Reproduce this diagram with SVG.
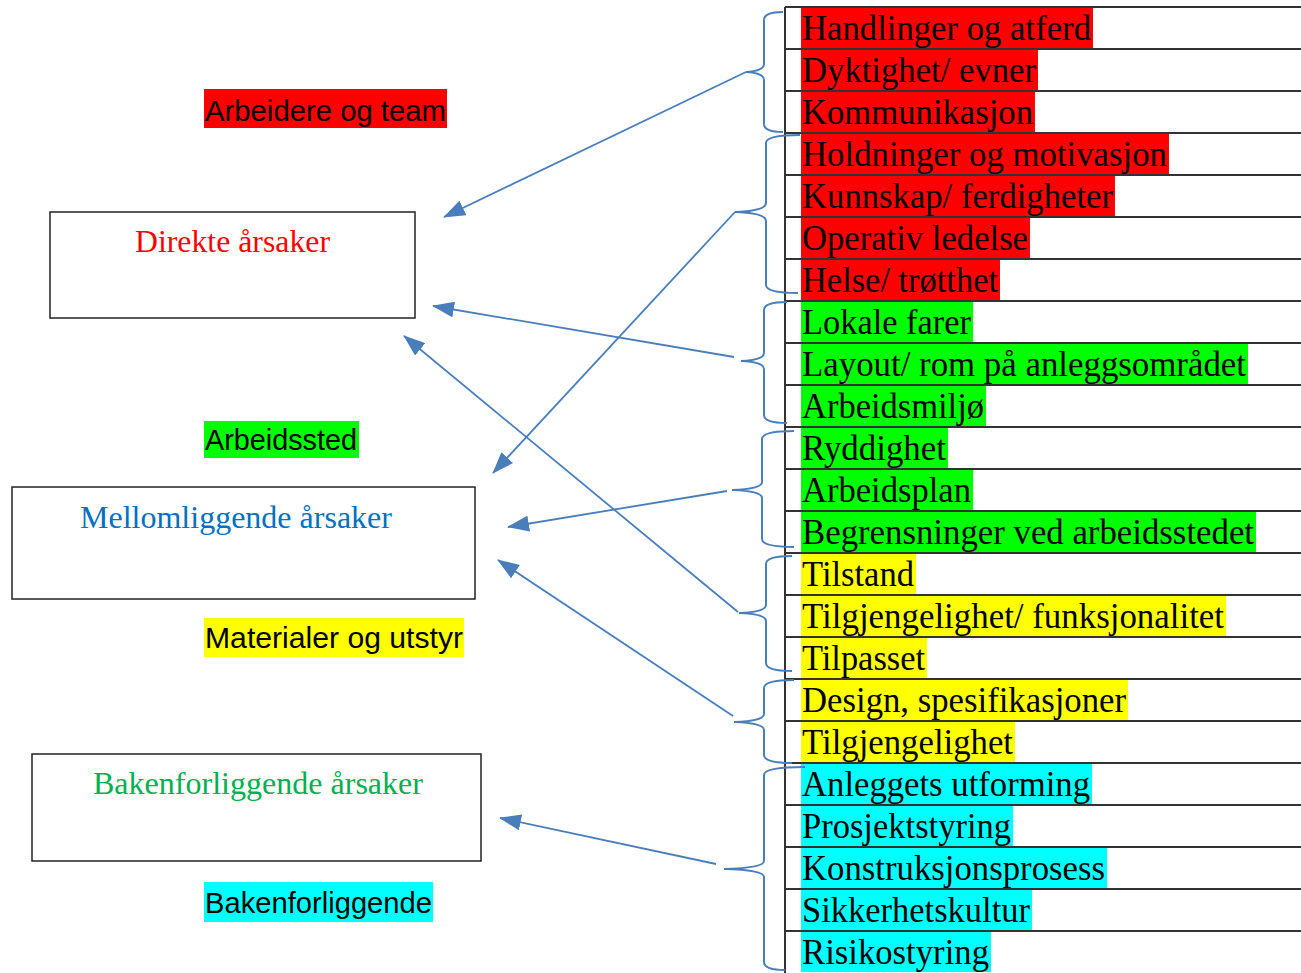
<svg xmlns="http://www.w3.org/2000/svg" width="1301" height="973" viewBox="0 0 1301 973">
<style>
.row{font-family:"Liberation Serif","Times New Roman",serif;font-size:35px;fill:#000}
.grid{stroke:#333;stroke-width:2}
.brace{fill:none;stroke:#4a7ebb;stroke-width:2}
.conn{fill:none;stroke:#4a7ebb;stroke-width:1.8}
.box{fill:#fff;stroke:#222;stroke-width:1.5}
.btxt{font-family:"Liberation Serif","Times New Roman",serif;font-size:31px}
.lbl{font-family:"Liberation Sans",Arial,sans-serif;font-size:29px;fill:#000}
.red{fill:#ff0000}.grn{fill:#00ff00}.yel{fill:#ffff00}.cyn{fill:#00ffff}
</style>
<defs>
<marker id="ah" viewBox="0 0 22 16" refX="21" refY="8" markerWidth="22" markerHeight="16" markerUnits="userSpaceOnUse" orient="auto">
<path d="M0,0 L22,8 L0,16 Z" fill="#4a7ebb"/>
</marker>
</defs>
<rect width="1301" height="973" fill="#fff"/>

<!-- table -->
<g id="table">
<rect class="red" x="801" y="8" width="292" height="40"/>
<rect class="red" x="801" y="50" width="237" height="40"/>
<rect class="red" x="801" y="92" width="234" height="40"/>
<rect class="red" x="801" y="134" width="368" height="40"/>
<rect class="red" x="801" y="176" width="314" height="40"/>
<rect class="red" x="801" y="218" width="229" height="40"/>
<rect class="red" x="801" y="260" width="199" height="40"/>
<rect class="grn" x="801" y="302" width="172" height="40"/>
<rect class="grn" x="801" y="344" width="447" height="40"/>
<rect class="grn" x="801" y="386" width="185" height="40"/>
<rect class="grn" x="801" y="428" width="147" height="40"/>
<rect class="grn" x="801" y="470" width="172" height="40"/>
<rect class="grn" x="801" y="512" width="455" height="40"/>
<rect class="yel" x="801" y="554" width="115" height="40"/>
<rect class="yel" x="801" y="596" width="425" height="40"/>
<rect class="yel" x="801" y="638" width="126" height="40"/>
<rect class="yel" x="801" y="680" width="327" height="40"/>
<rect class="yel" x="801" y="722" width="214" height="40"/>
<rect class="cyn" x="801" y="764" width="291" height="40"/>
<rect class="cyn" x="801" y="806" width="212" height="40"/>
<rect class="cyn" x="801" y="848" width="306" height="40"/>
<rect class="cyn" x="801" y="890" width="231" height="40"/>
<rect class="cyn" x="801" y="932" width="190" height="40"/>

<g class="grid">
<line x1="785" y1="7" x2="785" y2="973"/>
<line x1="785" y1="7" x2="1301" y2="7"/>
<line x1="785" y1="49" x2="1301" y2="49"/>
<line x1="785" y1="91" x2="1301" y2="91"/>
<line x1="785" y1="133" x2="1301" y2="133"/>
<line x1="785" y1="175" x2="1301" y2="175"/>
<line x1="785" y1="217" x2="1301" y2="217"/>
<line x1="785" y1="259" x2="1301" y2="259"/>
<line x1="785" y1="301" x2="1301" y2="301"/>
<line x1="785" y1="343" x2="1301" y2="343"/>
<line x1="785" y1="385" x2="1301" y2="385"/>
<line x1="785" y1="427" x2="1301" y2="427"/>
<line x1="785" y1="469" x2="1301" y2="469"/>
<line x1="785" y1="511" x2="1301" y2="511"/>
<line x1="785" y1="553" x2="1301" y2="553"/>
<line x1="785" y1="595" x2="1301" y2="595"/>
<line x1="785" y1="637" x2="1301" y2="637"/>
<line x1="785" y1="679" x2="1301" y2="679"/>
<line x1="785" y1="721" x2="1301" y2="721"/>
<line x1="785" y1="763" x2="1301" y2="763"/>
<line x1="785" y1="805" x2="1301" y2="805"/>
<line x1="785" y1="847" x2="1301" y2="847"/>
<line x1="785" y1="889" x2="1301" y2="889"/>
<line x1="785" y1="931" x2="1301" y2="931"/>
</g>

<g class="row">
<text x="802" y="40" textLength="289" lengthAdjust="spacingAndGlyphs">Handlinger og atferd</text>
<text x="802" y="82" textLength="234" lengthAdjust="spacingAndGlyphs">Dyktighet/ evner</text>
<text x="802" y="124" textLength="231" lengthAdjust="spacingAndGlyphs">Kommunikasjon</text>
<text x="802" y="166" textLength="365" lengthAdjust="spacingAndGlyphs">Holdninger og motivasjon</text>
<text x="802" y="208" textLength="311" lengthAdjust="spacingAndGlyphs">Kunnskap/ ferdigheter</text>
<text x="802" y="250" textLength="226" lengthAdjust="spacingAndGlyphs">Operativ ledelse</text>
<text x="802" y="292" textLength="196" lengthAdjust="spacingAndGlyphs">Helse/ trøtthet</text>
<text x="802" y="334" textLength="169" lengthAdjust="spacingAndGlyphs">Lokale farer</text>
<text x="802" y="376" textLength="444" lengthAdjust="spacingAndGlyphs">Layout/ rom på anleggsområdet</text>
<text x="802" y="418" textLength="182" lengthAdjust="spacingAndGlyphs">Arbeidsmiljø</text>
<text x="802" y="460" textLength="144" lengthAdjust="spacingAndGlyphs">Ryddighet</text>
<text x="802" y="502" textLength="169" lengthAdjust="spacingAndGlyphs">Arbeidsplan</text>
<text x="802" y="544" textLength="452" lengthAdjust="spacingAndGlyphs">Begrensninger ved arbeidsstedet</text>
<text x="802" y="586" textLength="112" lengthAdjust="spacingAndGlyphs">Tilstand</text>
<text x="802" y="628" textLength="422" lengthAdjust="spacingAndGlyphs">Tilgjengelighet/ funksjonalitet</text>
<text x="802" y="670" textLength="123" lengthAdjust="spacingAndGlyphs">Tilpasset</text>
<text x="802" y="712" textLength="324" lengthAdjust="spacingAndGlyphs">Design, spesifikasjoner</text>
<text x="802" y="754" textLength="211" lengthAdjust="spacingAndGlyphs">Tilgjengelighet</text>
<text x="802" y="796" textLength="288" lengthAdjust="spacingAndGlyphs">Anleggets utforming</text>
<text x="802" y="838" textLength="209" lengthAdjust="spacingAndGlyphs">Prosjektstyring</text>
<text x="802" y="880" textLength="303" lengthAdjust="spacingAndGlyphs">Konstruksjonsprosess</text>
<text x="802" y="922" textLength="228" lengthAdjust="spacingAndGlyphs">Sikkerhetskultur</text>
<text x="802" y="964" textLength="187" lengthAdjust="spacingAndGlyphs">Risikostyring</text>
</g>
</g>

<!-- braces -->
<g id="braces">
<path class="brace" d="M783,12 Q764,12 764,20 L764,64 Q764,71 746,72 Q764,73 764,80 L764,124 Q764,132 783,132"/>
<path class="brace" d="M800,135 Q766,135 766,143 L766,203 Q766,211 735,212 Q766,213 766,221 L766,285 Q766,293 798,293"/>
<path class="brace" d="M787,302 Q764,302 764,310 L764,353 Q764,360 741,361 Q764,362 764,369 L764,415 Q764,423 787,423"/>
<path class="brace" d="M794,431 Q762,431 762,439 L762,482 Q762,489 732,490 Q762,491 762,498 L762,539 Q762,547 794,547"/>
<path class="brace" d="M792,556 Q766,556 766,564 L766,605 Q766,612 739,613 Q766,614 766,621 L766,663 Q766,671 792,671"/>
<path class="brace" d="M794,680 Q764,680 764,688 L764,714 Q764,721 734,722 Q764,723 764,730 L764,755 Q764,763 792,763"/>
<path class="brace" d="M805,767 Q764,767 764,775 L764,861 Q764,868 724,869 Q764,870 764,877 L764,962 Q764,970 785,970"/>
</g>

<!-- connectors -->
<g id="connectors">
<line class="conn" x1="746" y1="72" x2="444" y2="217" marker-end="url(#ah)"/>
<line class="conn" x1="735" y1="212" x2="493" y2="473" marker-end="url(#ah)"/>
<line class="conn" x1="734" y1="357" x2="433" y2="306" marker-end="url(#ah)"/>
<line class="conn" x1="727" y1="491" x2="508" y2="527" marker-end="url(#ah)"/>
<line class="conn" x1="738" y1="612" x2="404" y2="336" marker-end="url(#ah)"/>
<line class="conn" x1="733" y1="716" x2="498" y2="560" marker-end="url(#ah)"/>
<line class="conn" x1="716" y1="864" x2="500" y2="818" marker-end="url(#ah)"/>
</g>

<!-- boxes -->
<g id="direkte">
<rect class="box" x="50" y="212" width="365" height="106"/>
<text class="btxt" x="135" y="252" fill="#ff0000" textLength="195" lengthAdjust="spacingAndGlyphs">Direkte årsaker</text>
</g>
<g id="mellomliggende">
<rect class="box" x="12" y="487" width="463" height="112"/>
<text class="btxt" x="80" y="528" fill="#0070c0" textLength="312" lengthAdjust="spacingAndGlyphs">Mellomliggende årsaker</text>
</g>
<g id="bakenforliggende">
<rect class="box" x="32" y="754" width="449" height="107"/>
<text class="btxt" x="93" y="794" fill="#00b050" textLength="330" lengthAdjust="spacingAndGlyphs">Bakenforliggende årsaker</text>
</g>

<!-- legend labels -->
<g id="lbl-arbeidere">
<rect class="red" x="204" y="89" width="243" height="39"/>
<text class="lbl" x="205" y="121" textLength="241" lengthAdjust="spacingAndGlyphs">Arbeidere og team</text>
</g>
<g id="lbl-arbeidssted">
<rect class="grn" x="204" y="421" width="155" height="37"/>
<text class="lbl" x="205" y="450" textLength="152" lengthAdjust="spacingAndGlyphs">Arbeidssted</text>
</g>
<g id="lbl-materialer">
<rect class="yel" x="204" y="618" width="260" height="39"/>
<text class="lbl" x="205" y="648" textLength="258" lengthAdjust="spacingAndGlyphs">Materialer og utstyr</text>
</g>
<g id="lbl-bakenforliggende">
<rect class="cyn" x="204" y="882" width="229" height="40"/>
<text class="lbl" x="205" y="913" textLength="227" lengthAdjust="spacingAndGlyphs">Bakenforliggende</text>
</g>
</svg>
